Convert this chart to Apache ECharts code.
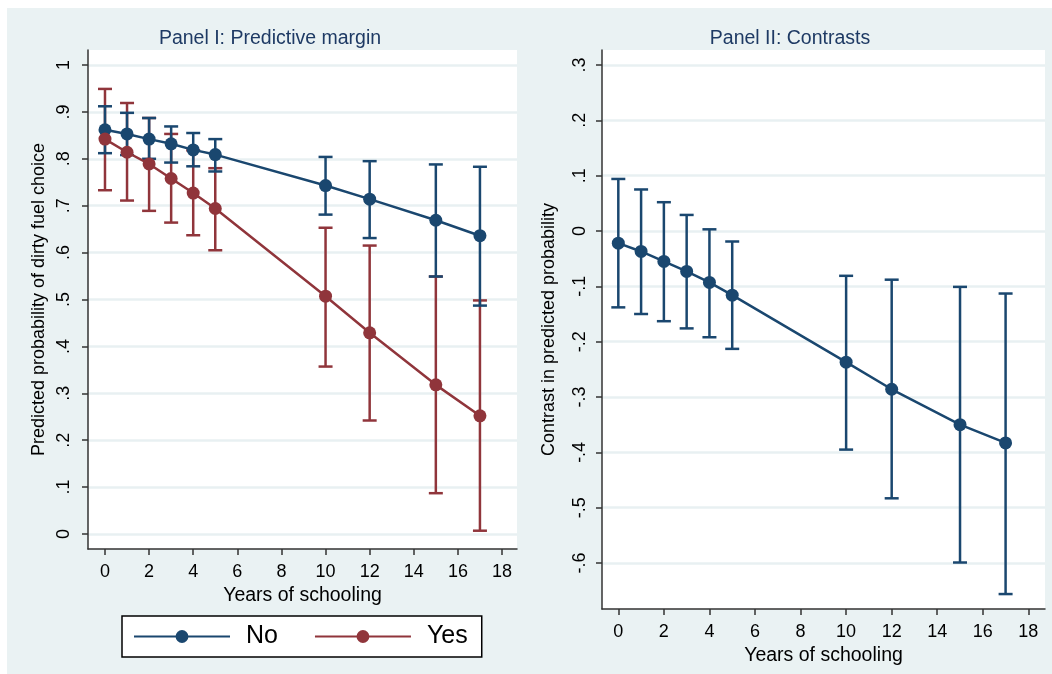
<!DOCTYPE html>
<html>
<head>
<meta charset="utf-8">
<script src="https://cdn.jsdelivr.net/npm/echarts@6/dist/echarts.min.js"></script>
<style>
  html, body { margin: 0; padding: 0; background: #fff; }
  #bg { position: absolute; left: 7px; top: 8px; right: 0; bottom: 0; background: #eaf2f3; }
  #chart { position: absolute; left: 0; top: 0; width: 1052px; height: 674px; }
</style>
</head>
<body>
<div id="bg"></div>
<div id="chart"></div>
<script>
// years of schooling
const years = [0, 1, 2, 3, 4, 5, 10, 12, 15, 17];

// Panel I: predictive margins
const noMargin = [0.862, 0.853, 0.842, 0.832, 0.819, 0.809, 0.743, 0.714, 0.669, 0.636];
const noLow    = [0.812, 0.808, 0.800, 0.792, 0.784, 0.773, 0.681, 0.631, 0.549, 0.487];
const noHigh   = [0.912, 0.898, 0.887, 0.869, 0.855, 0.842, 0.804, 0.795, 0.788, 0.783];

const yesMargin = [0.842, 0.814, 0.789, 0.758, 0.727, 0.694, 0.507, 0.429, 0.318, 0.252];
const yesLow    = [0.733, 0.711, 0.689, 0.664, 0.637, 0.605, 0.357, 0.242, 0.087, 0.007];
const yesHigh   = [0.949, 0.919, 0.887, 0.853, 0.818, 0.780, 0.653, 0.615, 0.549, 0.498];

// Panel II: contrasts
const contrast     = [-0.022, -0.037, -0.055, -0.073, -0.093, -0.116, -0.237, -0.286, -0.350, -0.383];
const contrastLow  = [-0.138, -0.150, -0.163, -0.176, -0.192, -0.213, -0.395, -0.483, -0.599, -0.656];
const contrastHigh = [0.094, 0.075, 0.052, 0.029, 0.003, -0.019, -0.081, -0.088, -0.101, -0.113];

// tick values
const xTicks = [0, 2, 4, 6, 8, 10, 12, 14, 16, 18];
const yTicksLeft = [0, 0.1, 0.2, 0.3, 0.4, 0.5, 0.6, 0.7, 0.8, 0.9, 1];
const yTicksRight = [-0.6, -0.5, -0.4, -0.3, -0.2, -0.1, 0, 0.1, 0.2, 0.3];

const NAVY = '#1a476f';
const MAROON = '#90353b';
const FONT = 'Liberation Sans';

const chart = echarts.init(document.getElementById('chart'), null, { renderer: 'canvas' });

// stata style: .5 instead of 0.5
function stataNum(v) {
  const s = String(Math.round(v * 10) / 10);
  return s.replace(/^0\./, '.').replace(/^-0\./, '-.');
}

function pairs(xs, ys) {
  return xs.map((x, i) => [x, ys[i]]);
}

function ciData(xs, lo, hi) {
  return xs.map((x, i) => [x, lo[i], hi[i]]);
}

function errorBars(color) {
  return function (params, api) {
    const x = api.value(0);
    const pLo = api.coord([x, api.value(1)]);
    const pHi = api.coord([x, api.value(2)]);
    const hw = 7;
    const st = { stroke: color, lineWidth: 2.5 };
    return {
      type: 'group',
      children: [
        { type: 'line', shape: { x1: pLo[0], y1: pLo[1], x2: pHi[0], y2: pHi[1] }, style: st },
        { type: 'line', shape: { x1: pLo[0] - hw, y1: pLo[1], x2: pLo[0] + hw, y2: pLo[1] }, style: st },
        { type: 'line', shape: { x1: pHi[0] - hw, y1: pHi[1], x2: pHi[0] + hw, y2: pHi[1] }, style: st }
      ]
    };
  };
}

function xAxisOf(gridIndex, min, max) {
  return {
    type: 'value', gridIndex: gridIndex, min: min, max: max,
    name: 'Years of schooling', nameLocation: 'middle', nameGap: 36,
    nameTextStyle: { fontFamily: FONT, fontSize: 19.5, color: '#000' },
    axisLine: { show: true, onZero: false, lineStyle: { color: '#333', width: 1.5 } },
    axisTick: { show: true, length: 6, customValues: xTicks, lineStyle: { color: '#333', width: 1.5 } },
    axisLabel: { customValues: xTicks, fontFamily: FONT, fontSize: 18, color: '#000', margin: 14 },
    splitLine: { show: false }
  };
}

function yAxisOf(gridIndex, min, max, ticks, name, gap, lblMargin) {
  return {
    type: 'value', gridIndex: gridIndex, min: min, max: max,
    name: name, nameLocation: 'middle', nameGap: gap,
    nameTextStyle: { fontFamily: FONT, fontSize: 18, color: '#000' },
    axisLine: { show: true, onZero: false, lineStyle: { color: '#333', width: 1.5 } },
    axisTick: { show: true, length: 6, customValues: ticks, lineStyle: { color: '#333', width: 1.5 } },
    axisLabel: {
      customValues: ticks, rotate: 90, fontFamily: FONT, fontSize: 18, color: '#000', margin: lblMargin,
      formatter: stataNum
    },
    splitLine: { show: true, lineStyle: { color: '#e8f0f2', width: 2.5 } }
  };
}

const option = {
  animation: false,
  backgroundColor: 'transparent',
  title: [
    { text: 'Panel I: Predictive margin', left: 265, top: 24, textAlign: 'center',
      textStyle: { fontFamily: FONT, fontSize: 19.5, fontWeight: 'normal', color: '#1e3a64' } },
    { text: 'Panel II: Contrasts', left: 785, top: 24, textAlign: 'center',
      textStyle: { fontFamily: FONT, fontSize: 19.5, fontWeight: 'normal', color: '#1e3a64' } }
  ],
  grid: [
    { left: 88, top: 50, width: 429, height: 499, show: true, backgroundColor: '#fff', borderWidth: 0 },
    { left: 602, top: 50, width: 443, height: 559, show: true, backgroundColor: '#fff', borderWidth: 0 }
  ],
  xAxis: [xAxisOf(0, -0.77, 18.68), xAxisOf(1, -0.716, 18.73)],
  yAxis: [
    yAxisOf(0, -0.032, 1.032, yTicksLeft, 'Predicted probability of dirty fuel choice', 40, 15),
    yAxisOf(1, -0.683, 0.327, yTicksRight, 'Contrast in predicted probability', 44, 13)
  ],
  legend: {
    data: ['No', 'Yes'],
    left: 122, top: 616,
    orient: 'horizontal',
    backgroundColor: '#fff',
    borderColor: '#000',
    borderWidth: 1.5,
    borderRadius: 0,
    padding: [8, 14, 8, 11],
    itemWidth: 96, itemHeight: 16, itemGap: 36,
    textStyle: { fontFamily: FONT, fontSize: 25, color: '#000', padding: [0, 0, 0, 11] }
  },
  series: [
    { name: 'Yes CI', type: 'custom', xAxisIndex: 0, yAxisIndex: 0, z: 2,
      renderItem: errorBars(MAROON), data: ciData(years, yesLow, yesHigh) },
    { name: 'No CI', type: 'custom', xAxisIndex: 0, yAxisIndex: 0, z: 3,
      renderItem: errorBars(NAVY), data: ciData(years, noLow, noHigh) },
    { name: 'No', type: 'line', xAxisIndex: 0, yAxisIndex: 0, z: 4,
      data: pairs(years, noMargin), symbol: 'circle', symbolSize: 13,
      itemStyle: { color: NAVY }, lineStyle: { color: NAVY, width: 2.5 } },
    { name: 'Yes', type: 'line', xAxisIndex: 0, yAxisIndex: 0, z: 5,
      data: pairs(years, yesMargin), symbol: 'circle', symbolSize: 13,
      itemStyle: { color: MAROON }, lineStyle: { color: MAROON, width: 2.5 } },
    { name: 'Contrast CI', type: 'custom', xAxisIndex: 1, yAxisIndex: 1, z: 2,
      renderItem: errorBars(NAVY), data: ciData(years, contrastLow, contrastHigh) },
    { name: 'Contrast', type: 'line', xAxisIndex: 1, yAxisIndex: 1, z: 4,
      data: pairs(years, contrast), symbol: 'circle', symbolSize: 13,
      itemStyle: { color: NAVY }, lineStyle: { color: NAVY, width: 2.5 } }
  ]
};

chart.setOption(option);
</script>
</body>
</html>
